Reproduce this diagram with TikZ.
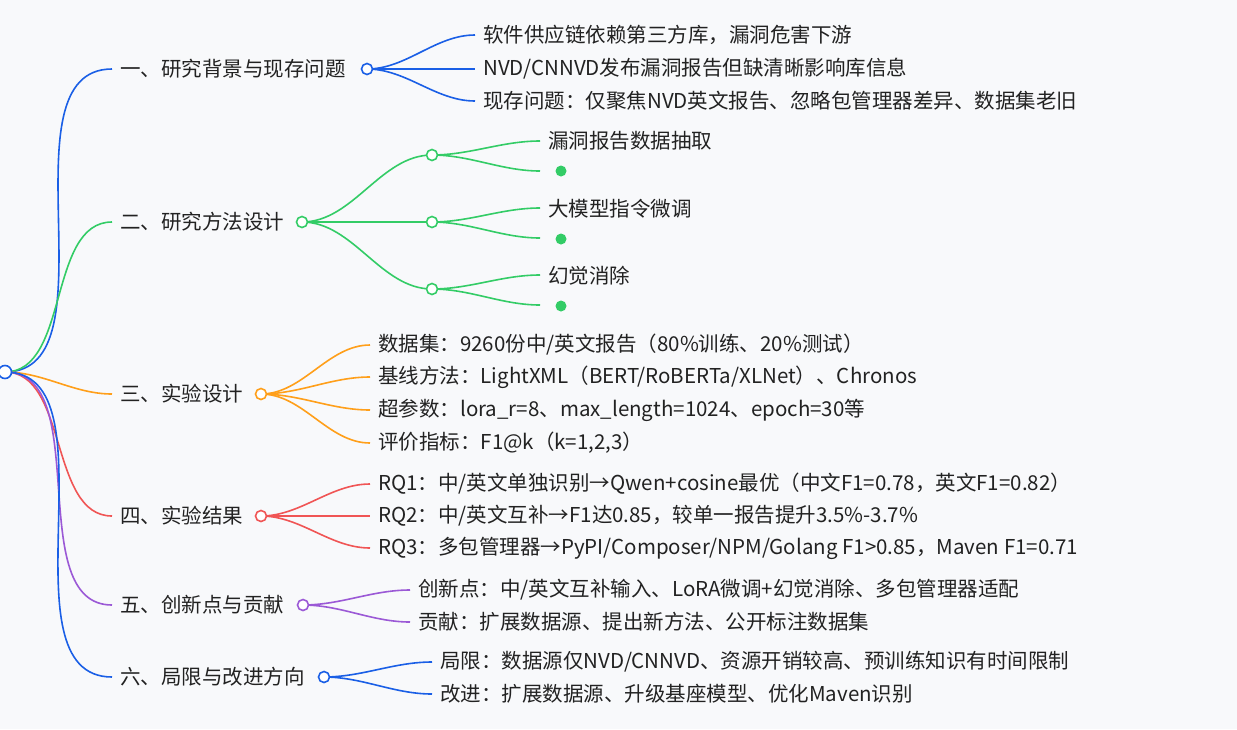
\documentclass[tikz,border=0pt]{standalone}
\usepackage{fontspec}
\setmainfont{Noto Sans CJK SC}
\definecolor{bgc}{HTML}{F8F9FB}
\definecolor{cb}{HTML}{1A5FE6}
\definecolor{cg}{HTML}{33CC66}
\definecolor{co}{HTML}{FF9F1A}
\definecolor{cr}{HTML}{F05555}
\definecolor{cp}{HTML}{9B59D6}
\definecolor{tx}{HTML}{222222}
\tikzset{
 lbl/.style={anchor=west,inner sep=0pt,text=tx,font=\fontsize{20.5}{24}\selectfont},
 knot/.style={circle,draw=#1,fill=white,line width=1.6pt,minimum size=11pt,inner sep=0pt},
 dot/.style={circle,fill=#1,minimum size=11pt,inner sep=0pt},
 ln/.style={draw=#1,line width=1.6pt},
}
\newcommand{\cc}[3]{\draw[ln=#3] (#1) to[out=0,in=180,looseness=0.9] ([xshift=-8pt]#2.west);}
\begin{document}
\begin{tikzpicture}[x=1pt,y=-1pt]
\fill[bgc] (0,0) rectangle (1237,729);
\useasboundingbox (0,0) rectangle (1237,729);
% level 1
\node[lbl] (b1) at (120,69) {一、研究背景与现存问题};
\node[lbl] (b2) at (120,222) {二、研究方法设计};
\node[lbl] (b3) at (120,394) {三、实验设计};
\node[lbl] (b4) at (120,516) {四、实验结果};
\node[lbl] (b5) at (120,605) {五、创新点与贡献};
\node[lbl] (b6) at (120,677) {六、局限与改进方向};
\cc{5,372}{b1}{cb}\cc{5,372}{b2}{cg}\cc{5,372}{b3}{co}
\cc{5,372}{b4}{cr}\cc{5,372}{b5}{cp}\cc{5,372}{b6}{cb}
\node[knot=cb,minimum size=13pt] (root) at (5,372) {};
% branch 1
\node[lbl] (a1) at (483,35) {软件供应链依赖第三方库，漏洞危害下游};
\node[lbl] (a2) at (483,69) {NVD/CNNVD发布漏洞报告但缺清晰影响库信息};
\node[lbl] (a3) at (483,101) {现存问题：仅聚焦NVD英文报告、忽略包管理器差异、数据集老旧};
\foreach \t in {a1,a2,a3}{\cc{367,69}{\t}{cb}}
\node[knot=cb] (k1) at (367,69) {};
% branch 2
\node[lbl] (g1) at (548,141) {漏洞报告数据抽取};
\node[lbl] (g2) at (548,209) {大模型指令微调};
\node[lbl] (g3) at (548,276) {幻觉消除};
\node[dot=cg] (d1) at (561,171) {};
\node[dot=cg] (d2) at (561,239) {};
\node[dot=cg] (d3) at (561,306) {};
\foreach \y in {155,222,289}{
 \draw[ln=cg] (432,\y) to[out=0,in=180,looseness=0.9] (540,\y-14);
 \draw[ln=cg] (432,\y) to[out=0,in=180,looseness=0.9] (540,\y+16);
}
\draw[ln=cg] (302,222) to[out=0,in=180,looseness=0.9] (432,155);
\draw[ln=cg] (302,222) -- (432,222);
\draw[ln=cg] (302,222) to[out=0,in=180,looseness=0.9] (432,289);
\foreach \y in {155,222,289}{\node[knot=cg] at (432,\y) {};}
\node[knot=cg] (k2) at (302,222) {};
% branch 3
\node[lbl] (o1) at (378,345) {数据集：9260份中/英文报告（80\%训练、20\%测试）};
\node[lbl] (o2) at (378,377) {基线方法：LightXML（BERT/RoBERTa/XLNet）、Chronos};
\node[lbl] (o3) at (378,410) {超参数：lora\_r=8、max\_length=1024、epoch=30等};
\node[lbl] (o4) at (378,443) {评价指标：F1@k（k=1,2,3）};
\foreach \t in {o1,o2,o3,o4}{\cc{261,394}{\t}{co}}
\node[knot=co] (k3) at (261,394) {};
% branch 4
\node[lbl] (r1) at (378,484) {RQ1：中/英文单独识别→Qwen+cosine最优（中文F1=0.78，英文F1=0.82）};
\node[lbl] (r2) at (378,516) {RQ2：中/英文互补→F1达0.85，较单一报告提升3.5\%-3.7\%};
\node[lbl] (r3) at (378,548) {RQ3：多包管理器→PyPI/Composer/NPM/Golang F1>0.85，Maven F1=0.71};
\foreach \t in {r1,r2,r3}{\cc{261,516}{\t}{cr}}
\node[knot=cr] (k4) at (261,516) {};
% branch 5
\node[lbl] (p1) at (418,590) {创新点：中/英文互补输入、LoRA微调+幻觉消除、多包管理器适配};
\node[lbl] (p2) at (418,622) {贡献：扩展数据源、提出新方法、公开标注数据集};
\foreach \t in {p1,p2}{\cc{303,605}{\t}{cp}}
\node[knot=cp] (k5) at (303,605) {};
% branch 6
\node[lbl] (c1) at (440,662) {局限：数据源仅NVD/CNNVD、资源开销较高、预训练知识有时间限制};
\node[lbl] (c2) at (440,694) {改进：扩展数据源、升级基座模型、优化Maven识别};
\foreach \t in {c1,c2}{\cc{324,677}{\t}{cb}}
\node[knot=cb] (k6) at (324,677) {};
\end{tikzpicture}
\end{document}
